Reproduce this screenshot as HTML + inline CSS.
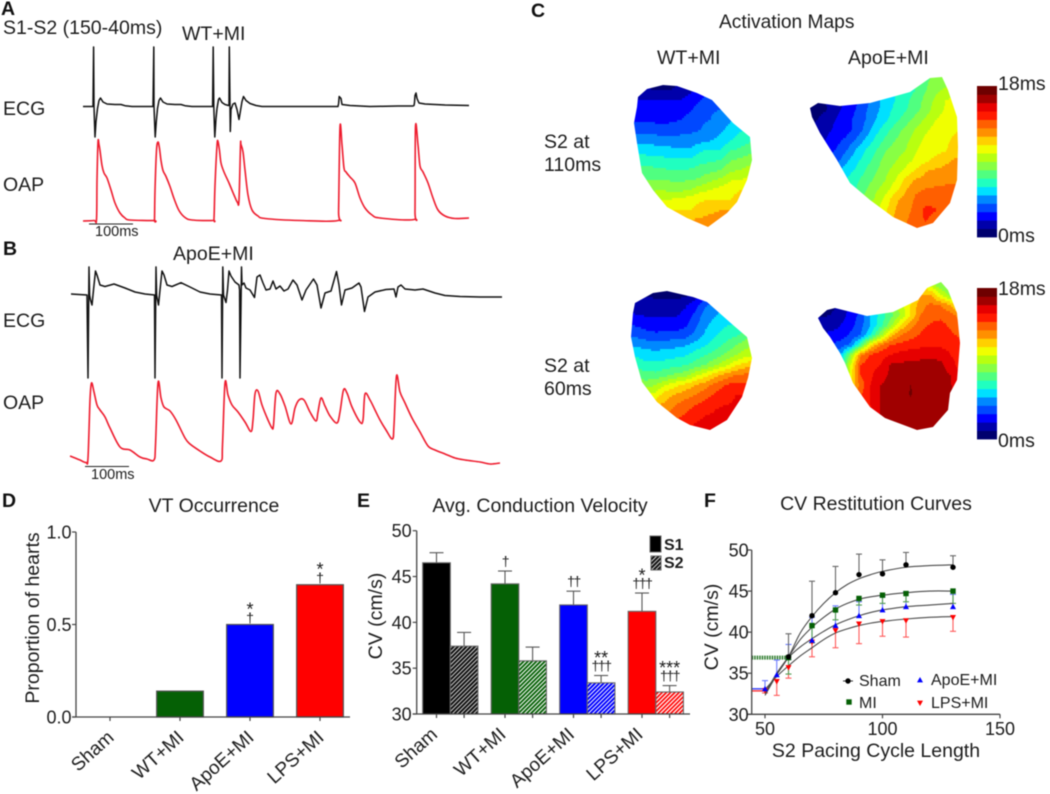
<!DOCTYPE html>
<html lang="en">
<head>
<meta charset="utf-8">
<title>Panel figure: ECG, OAP, activation maps, VT occurrence, conduction velocity</title>
<style>
html,body{margin:0;padding:0;background:#fff;}
svg{display:block;font-family:"Liberation Sans",sans-serif;filter:blur(0.4px);}
text{fill:#1c1c1c;}
.pl{font-size:19.5px;font-weight:bold;fill:#111;}
.t{font-size:19.5px;}
</style>
</head>
<body>
<svg id="fig" width="1050" height="794" viewBox="0 0 1050 794" xmlns="http://www.w3.org/2000/svg">
<defs>
<pattern id="hatch-black" patternUnits="userSpaceOnUse" width="3" height="3" patternTransform="rotate(45)"><rect width="3" height="3" fill="#fff"/><rect width="2.2" height="3" fill="#111"/></pattern>
<pattern id="hatch-green" patternUnits="userSpaceOnUse" width="3" height="3" patternTransform="rotate(45)"><rect width="3" height="3" fill="#fff"/><rect width="1.9" height="3" fill="#056005"/></pattern>
<pattern id="hatch-blue" patternUnits="userSpaceOnUse" width="3" height="3" patternTransform="rotate(45)"><rect width="3" height="3" fill="#fff"/><rect width="2" height="3" fill="#0000ff"/></pattern>
<pattern id="hatch-red" patternUnits="userSpaceOnUse" width="3" height="3" patternTransform="rotate(45)"><rect width="3" height="3" fill="#fff"/><rect width="1.7" height="3" fill="#ff0000"/></pattern>
<clipPath id="clip-map-1"><polygon points="638,97 647,89 663,85 677,86 697,93 712,100 733,123 750,137 752,160 747,180 737,202 727,213 708,227 687,218 667,207 653,190 642,173 637,143 634,123 637,107"/></clipPath>
<clipPath id="clip-map-2"><polygon points="810,108 818,103 840,106 870,103 910,92 930,78 942,77 948,90 957,117 958,147 957,180 950,203 933,223 917,228 893,217 870,200 850,183 837,160 820,133 812,117"/></clipPath>
<clipPath id="clip-map-3"><polygon points="635,303 653,293 667,291 693,297 707,302 733,325 747,337 752,358 748,378 742,397 727,420 710,430 690,425 677,418 657,402 642,382 635,357 631,337 633,313"/></clipPath>
<clipPath id="clip-map-4"><polygon points="818,318 827,310 835,308 867,316 893,312 918,300 927,288 941,282 948,290 957,313 960,343 957,380 950,393 948,410 933,427 917,430 885,418 870,407 853,383 845,363 840,353 830,337 823,328"/></clipPath>
</defs>

<!-- Panel A -->
<text class="pl" x="1" y="15">A</text>
<text class="t" x="3" y="34">S1-S2 (150-40ms)</text>
<text class="t" x="182" y="40">WT+MI</text>
<text class="t" x="3" y="115">ECG</text>
<text class="t" x="3" y="191">OAP</text>
<line x1="89" x2="133" y1="224" y2="224" stroke="#222" stroke-width="1"/>
<text x="95" y="236" font-size="14.5">100ms</text>
<g id="traces-a"></g>

<!-- Panel B -->
<text class="pl" x="3" y="255">B</text>
<text class="t" x="173" y="260">ApoE+MI</text>
<text class="t" x="3" y="327">ECG</text>
<text class="t" x="3" y="409">OAP</text>
<line x1="85" x2="129" y1="466.5" y2="466.5" stroke="#222" stroke-width="1"/>
<text x="91" y="479" font-size="14.5">100ms</text>
<g id="traces-b"></g>

<!-- Panel C -->
<text class="pl" x="531" y="17">C</text>
<text x="719" y="28" font-size="19.2">Activation Maps</text>
<text class="t" x="657" y="64">WT+MI</text>
<text class="t" x="848" y="64">ApoE+MI</text>
<text class="t" x="544" y="148">S2 at</text>
<text class="t" x="544" y="171">110ms</text>
<text class="t" x="544" y="372">S2 at</text>
<text class="t" x="544" y="395">60ms</text>
<g id="maps"></g>
<g id="colorbars"></g>
<text class="t" x="998" y="90">18ms</text>
<text class="t" x="998" y="242">0ms</text>
<text class="t" x="998" y="295">18ms</text>
<text class="t" x="998" y="447">0ms</text>

<!-- Panel D -->
<text class="pl" x="2" y="507">D</text>
<text class="t" x="214" y="512" text-anchor="middle">VT Occurrence</text>
<text class="t" transform="translate(39,618) rotate(-90)" text-anchor="middle">Proportion of hearts</text>
<g id="chart-d"></g>

<!-- Panel E -->
<text class="pl" x="357" y="507">E</text>
<text class="t" x="540" y="512" text-anchor="middle">Avg. Conduction Velocity</text>
<text class="t" transform="translate(382,616) rotate(-90)" text-anchor="middle">CV (cm/s)</text>
<g id="chart-e"></g>
<rect x="650" y="536" width="11" height="16" fill="#000" stroke="#666"/>
<text x="664" y="550" font-size="16" font-weight="bold">S1</text>
<rect x="651" y="556" width="10" height="14" fill="url(#hatch-black)" stroke="#666"/>
<text x="664" y="568" font-size="16" font-weight="bold">S2</text>

<!-- Panel F -->
<text class="pl" x="704" y="507">F</text>
<text class="t" x="876" y="510" text-anchor="middle">CV Restitution Curves</text>
<text class="t" transform="translate(718,627) rotate(-90)" text-anchor="middle">CV (cm/s)</text>
<text class="t" x="876" y="757" text-anchor="middle">S2 Pacing Cycle Length</text>
<g id="chart-f"></g>
<text x="859" y="686" font-size="16">Sham</text>
<text x="859" y="708" font-size="16">MI</text>
<text x="931" y="685" font-size="16">ApoE+MI</text>
<text x="931" y="708" font-size="16">LPS+MI</text>
</svg>

<script>
/* ---------- Trace data: [sample, amplitude] ---------- */
const ecgA = [[3,0],[13,0],[13.6,59.5],[14,0],[15,-30.5],[16,-15],[17.5,-2],[19,6],[20.5,8.5],[23,4.5],[27,2.5],[35,2],[41,2],[45,.8],[52,0],[73,0],[73.8,59.5],[74,0],[75.2,-30.5],[76.3,-15],[77.5,-2],[79,6],[80.5,8.5],[83,4.5],[87,2.5],[95,2],[101,2],[105,.8],[112,0],[132.6,0],[133.2,59.5],[133.8,0],[134.8,-30.5],[136,-12],[137,-2],[138.5,7],[139.5,8.5],[142,4],[145,2],[148.6,1],[149,1.5],[149.3,59.5],[150,1],[150.3,-25],[151,-3],[153,2.5],[155,3.5],[157,-3],[159,-13],[160.5,-4],[162,5],[163.5,10],[166,6],[170,3],[176,1],[182,0],[258,0],[258.6,3],[259.2,10],[261,8],[262,2],[270,1],[280,.5],[290,0],[318,.5],[333,.5],[334,1],[334.5,4],[335,11],[336,13.5],[337,8],[339,3.5],[345,2.5],[355,2],[365,1.5],[389,1]];
const oapA = [[3,-.5],[14,0],[16.5,1],[17,40],[18,78.5],[19,76],[20,70],[22,55],[24,47.5],[27,42.5],[31,30.5],[35,17.5],[40,7.5],[45,2.5],[50,.5],[74,0],[74.5,1],[75,30],[76.5,70],[78,78.5],[79.5,72],[81,60],[83,50],[86,44],[90,34],[94,22],[99,10],[105,3],[112,.5],[133,0],[134,2],[135,35],[137,75],[138,79],[139.5,70],[141,57.5],[144,48.5],[149,37.5],[154,25.5],[157.5,18],[159,20.5],[160.5,74.5],[161,76],[163,68.5],[165,50.5],[168,25.5],[172,10.5],[178,4.5],[185,2],[220,0],[258,0],[258.6,10],[260,93.5],[262,75.5],[264,52.5],[266,48.5],[270,43.5],[275,37.5],[280,22.5],[285,12.5],[292,5.5],[300,2.5],[334,1],[335,10],[335.5,94],[338,75.5],[340,54.5],[343,48.5],[348,37.5],[353,22.5],[358,10.5],[365,4.5],[375,2],[389,2.5]];
const ecgB = [[1,1],[17,0],[18,-83],[19,28],[19.6,0],[20.5,-5],[22,-10],[23.5,5],[25.5,24],[27,20],[30,10],[35,8.5],[44,11],[55,7],[65,3],[75,1],[84.5,0],[85,-83],[86,28],[86.6,0],[88.5,-10],[90,5],[92,24],[94,20],[97,10],[102,8.5],[111,12.3],[120,8],[130,3],[140,1],[151.5,0],[152,-83],[152.8,28],[153.5,0],[156,-7.5],[157.5,5],[159,24],[161,19],[165,13],[169,10],[169.6,5],[170,-83],[171.5,28],[172,10],[174,12],[176,7],[180,5],[184.5,-2.5],[187,18],[190,20],[193,12],[196,5],[200,6],[203,14],[206,6],[210,9],[214,4],[218,6],[223,15],[227,10],[232,-5],[236,5],[243.5,16],[247,10],[251,-13],[255,2],[261,4],[266.5,23.5],[269,10],[271.5,-10],[275,5],[282,7],[289,12],[291,8],[294.5,-16.5],[298,-2],[305,3],[316,5.5],[324,6],[326,-2],[328,8],[331,10],[335,6],[345,5],[353,6],[365,2],[375,-.5],[390,-1.5],[410,-2],[432,-2]];
const oapB = [[0,6],[5,4],[10,2],[16,-.5],[18,4],[20,62],[21.5,79],[24,70],[27,57],[30,52],[35,45],[40,34],[50,15],[60,12],[70,5],[77,3],[84,2],[85.5,17],[88,79],[91,64],[94,55],[100,51],[106,42],[115,24],[120,18],[130,11],[140,5],[151,1],[152.5,17],[155,79],[158,67],[162,57],[168,50],[175,40],[181,30.5],[183,42],[185,68],[188,71],[192,57],[198,42],[202,34],[203.5,37],[206,69],[210,68],[215,56],[221,38],[225,54],[229,62],[234,62],[240,50],[246,41],[248,50],[251,64],[255,56],[260,46],[267,39],[270,50],[273.5,72],[277,69],[282,55],[290,40],[293,42],[295,68],[300,62],[305,52],[310,42],[316,32],[322.5,23],[324,37],[326.5,86],[330,70],[335,59],[342,44],[350,30],[358,16],[365,12],[375,8],[385,4],[395,2],[410,0],[420,-2],[430,-1]];

/* ---------- Heatmap data: activation time (ms) per grid node ---------- */
const heatColors = ['#00006e','#0000aa','#0000ff','#0048ff','#0088ff','#00e0ff','#20ffc0','#50ff80','#88ff44','#b8ff10','#f0ff00','#ffd000','#ff9000','#ff5f00','#ff1a00','#e60000','#a00000','#6e0000'];
const mapWt110 = [
[1.2,1.2,1,.8,.6,.8,1.5,2,2.5,3,3.5,4,4.5,5],
[1.5,1.3,1,.9,1,1.3,1.8,2.5,3,3.5,3.8,4,4.5,5],
[2,2,2,2,2,2,2.4,3,3.4,3.8,4.2,4.5,5,5],
[2.3,2.3,2.3,2.3,2.3,2.5,2.9,3.6,3.9,4,4.6,5,5.3,5.6],
[2.8,2.8,2.8,2.7,2.8,3,3.5,3.9,4,4.4,4.9,5.4,5.8,6],
[3.5,3.6,3.6,3.5,3.5,3.7,3.8,4,4.3,4.8,5.4,5.9,6.2,6.5],
[4.6,4.7,4.6,4.4,4.3,4.3,4.4,4.6,4.9,5.3,5.9,6.4,6.8,7.2],
[5.5,5.6,5.5,5.4,5.3,5.2,5.1,5.9,6,6,6.9,7.2,7.6,8],
[6.4,6.5,6.4,6.3,6.2,6.2,6.2,6.6,6.8,7,7.9,8.2,8.6,9],
[7.3,7.4,7.3,7.2,7,7,7.1,7.5,7.7,8,8.8,9,9.4,9.8],
[8,8.1,8,8,7.9,7.9,7.9,8.2,8.8,9.2,9.9,10,10.5,11],
[8.6,8.7,8.8,9,8.8,8.8,9,9.7,10,10.4,10.8,11,11,11],
[9.6,9.6,9.8,10,10.1,10.3,10.6,10.9,11,11,11,11.3,11.5,12],
[10.5,10.6,10.8,11,11,11,11,11.4,11.8,12,12,12,12,12],
[11,11,11,11.3,11.8,12,12,12.2,12.3,12.3,12.3,12.3,12.3,12.3],
[11.5,11.5,11.8,12,12.3,12.5,12.5,12.5,12.5,12.5,12.5,12.5,12.5,12.5]];
const mapApoe110 = [
[.3,.5,1,1.5,2,2.8,3.6,4.6,5.4,6,6.7,7.2,7.8,8.2,8.4,8.6,9],
[.3,.5,1,1.5,2,2.8,3.6,4.6,5.4,6,6.7,7.2,7.8,8.3,8.5,8.8,9],
[.3,.5,1,1.5,2,2.8,3.6,4.6,5.4,6,6.6,7,7.9,8.7,9.2,9.6,10],
[.3,.5,1,1.5,2,2.8,3.6,4.6,5.4,6,6.7,7.4,8.3,9.2,10,10.2,10.4],
[.3,.6,.9,1.6,2.4,3,3.9,4.7,5.5,6.3,6.9,7.6,8.5,9.5,10.1,10.2,10.4],
[.6,.9,1.5,2,2.6,3.2,4,5,5.8,6.7,7.5,8.4,9.2,10,10.4,10.6,10.8],
[1.2,1.4,1.7,2.2,2.5,3.3,4.3,5.6,6.6,7.5,8.3,9.1,9.8,10.4,10.7,10.9,11],
[1.5,1.7,2,2.6,3.2,4,5.2,6.2,7.2,8,8.7,9.5,10.2,10.6,10.8,11.2,11.4],
[2,2.4,2.6,3,3.8,5,6,6.9,7.9,8.5,9,9.9,10.4,10.6,10.9,11.6,11.8],
[2.5,2.8,3,3.4,4.7,5.6,6.5,7.4,8.4,8.9,9.5,10.2,10.7,11.3,11.8,12.1,12.2],
[4,4,4.4,4.8,5.4,6.1,7,7.8,8.7,9.4,10.2,11,11.9,12.1,12.2,12.3,12.4],
[5,5,5.2,5.6,6,6.7,7.5,8.2,9,10,11.3,12.1,12.3,12.6,12.8,12.9,13],
[6,6,6,6.2,6.6,7,7.9,8.8,9.6,10.7,11.9,12.8,13.1,13.2,13.2,13.2,13],
[7,7,7,7,7.4,7.8,8.4,9.2,10.4,11.8,12.4,13.2,13.4,13.7,13.2,13,13],
[8,8,8,8,8,8.4,9,9.6,10.8,12,12.6,13.3,14.3,14.1,13,13,13],
[9,9,9,9,9,9.5,10,10.6,11.5,12.2,12.9,13.5,14.1,13.5,13,13,13],
[10,10,10,10,10,10.5,11,11,11.6,12.3,12.9,13.3,13.6,13.4,13,13,13]];
const mapWt60 = [
[1.3,1.1,.9,.7,.5,.5,.8,1.5,2.5,3,3.4,3.8,4,4.2],
[1.3,1.1,.9,.7,.5,.5,.8,1.5,2.5,3,3.4,3.8,4,4.2],
[2,1.7,1.6,1.6,1.6,1.7,1.9,2.6,3.8,4.5,4.9,5.2,5.4,5.6],
[2.3,2,1.9,1.9,1.9,1.9,2.2,3.3,4.5,4.9,5.4,5.7,6,6.2],
[3,2.9,2.7,2.5,2.4,2.4,2.8,3.8,4.8,5.4,5.9,6.1,6.5,7],
[4,3.8,3.3,3.2,3.3,3.4,3.6,4.3,5.2,5.9,6.5,6.8,7.5,8.4],
[5,4.8,4.7,4.6,4.6,4.7,4.9,5.4,5.9,6.6,7.2,7.9,8.6,9],
[6,5.9,5.4,5.3,5.5,5.7,5.9,6.5,7,7.4,8.2,8.9,9.6,10],
[7,6.8,6.3,6.3,6.5,6.7,6.9,7.4,8,8.9,9.7,10.8,11.5,11.8],
[8,7.8,7.4,7.3,7.7,8.2,8.6,9.7,10.6,11.6,12.4,13,13.2,13.4],
[9,8.9,8.5,9,10,10.7,11.3,12,12.6,13.4,14,14.4,14.3,14],
[11,10.5,10.2,10.4,11.6,12.1,12.6,13,13.6,14.2,14.6,15,15,15],
[12,12,12,12,12.2,13,13.5,14,14.4,14.9,15,15.1,15,15],
[13,13,13,13,13,13.7,14.1,14.6,15,15.1,15.3,15.1,15,15],
[14,14,14,14,14,14.2,14.6,15.1,15.3,15.4,15.2,15,15,15],
[14,14,14,14,14,14.5,15,15.2,15.4,15.4,15.2,15,15,15]];
const mapApoe60 = [
[.5,.5,.5,1,1.5,3,5,7,8,8,8,8,8,8,8,8,8],
[.5,.5,.5,1,1.5,3,5,7,8,9,10,11,9.5,8.3,8,8,8],
[.5,.5,.5,1,1.5,3,5,7,8,9,10.5,12,12.2,10,8.5,8,8],
[.5,.5,.7,1.2,2,3,5,7,8.5,9.6,11,12.6,13.2,13,12,10,9],
[1,.8,1,1.5,2.4,3.3,5.2,6.3,7.6,9,11,13,13.6,13.7,13.4,12.5,12],
[2,1.8,1.6,2,2.6,3.6,5,6.6,8.5,11,12.5,13.6,14.1,14.3,13.8,13.2,13],
[2,2,2.2,2.3,3.2,4,6,8.6,11.5,13,13.6,14.1,14.6,14.6,14.2,13.8,13.5],
[3,3,3,3.6,4.2,7,11,13,14,14.3,14.5,14.7,14.9,14.8,14.7,14.2,14],
[4,4,4,4.8,8.5,12.8,14.2,14.6,15,15.4,15.6,15.7,15.8,15.6,15,14.6,14.2],
[5,5,5,6,10,14,14.6,15,16.1,16.2,16.3,16.3,16.4,16.3,15.4,14.6,14.2],
[5,5,5,6,10.5,14,14.8,15.6,16.2,16.3,16.4,16.4,16.4,16.3,16,14.8,14.2],
[6,6,6,6,11,13.4,15,16,16.2,16.5,17,16.6,16.5,16.5,16.1,15,14.5],
[6,6,6,6,12,13.8,15,16,16.3,16.5,17.1,16.6,16.5,16.6,16.3,15.2,14.5],
[7,7,7,7,12,14,15,16.1,16.3,16.6,16.4,16.7,16.5,16.5,16.3,15.2,15],
[7,7,7,7,13,14,14.8,16,16.3,16.4,16.4,16.4,16.4,16.3,16.1,15,15],
[14,14,14,14,14,14,14.5,15.5,16.1,16.2,16.3,16.3,16.3,16.1,15,15,15],
[14,14,14,14,14,14,14.5,15.5,16,16.2,16.2,16.2,16.2,16,15,15,15]];

/* ---------- Panel D data ---------- */
const dCategories = ['Sham','WT+MI','ApoE+MI','LPS+MI'];
const dValues = [0,0.14,0.5,0.715];
const dColors = ['#000000','#056005','#0000ff','#ff0000'];
const dTickValues = [0,0.5,1];
const dTickLabels = ['0.0','0.5','1.0'];
const dStars = ['','','*','*'];
const dDaggers = ['','','†','†'];

/* ---------- Panel E data ---------- */
const eCategories = ['Sham','WT+MI','ApoE+MI','LPS+MI'];
const eS1 = [46.5,44.2,41.9,41.2];
const eS2 = [37.4,35.8,33.4,32.4];
const eS1Top = [47.6,45.6,43.4,43.2];
const eS2Top = [38.9,37.3,34.2,33.1];
const eTickValues = [30,35,40,45,50];
const eS1Daggers = ['','†','††','†††'];
const eS1Stars = ['','','','*'];
const eS2Daggers = ['','','†††','†††'];
const eS2Stars = ['','','**','***'];
const eFills = ['#000000','#056005','#0000ff','#ff0000'];
const eHatches = ['url(#hatch-black)','url(#hatch-green)','url(#hatch-blue)','url(#hatch-red)'];

/* ---------- Panel F data ---------- */
const fTicksX = [50,100,150];
const fTicksY = [30,35,40,45,50];
const shamX = [60,70,80,90,100,110,130];
const shamY = [37,42,44.8,47,47.1,48.2,47.9];
const shamErr = [39.8,46.2,48,49.5,48.8,49.7,49.3];
const miX = [60,70,80,90,100,110,130];
const miY = [36.9,40.8,42.7,44.1,44.5,44.7,45];
const miErr = [34.9,38.7,41.5,43.3,43.5,43.7,43.5];
const apoX = [50,55,60,70,80,90,100,110,130];
const apoY = [33.1,34.8,36.9,39,40.8,42,42.7,43.1,43.1];
const apoErr = [34.1,36.6,38.5,41.8,43.2,43.7,44.3,44.9,44.6];
const lpsX = [50,55,60,70,80,90,100,110,130];
const lpsY = [32.9,34,35.7,38.8,40.2,41,41.3,41.4,41.8];
const lpsErr = [32.6,32.3,34.4,37,38.1,38.6,39.5,39.4,40.1];
const fitX = [50,55,60,65,70,75,80,85,90,95,100,110,120,130];
const fitSham = [32.3,34.8,37,39.9,41.9,43.5,44.8,45.8,46.5,47,47.4,47.9,48.1,48.2];
const fitMi = [32.5,35,37,39.1,40.6,41.8,42.8,43.5,44,44.3,44.5,44.8,45,45];
const fitApo = [32.6,34.9,36.9,38.2,39.2,40.1,40.9,41.5,42,42.4,42.7,43.1,43.3,43.5];
const fitLps = [33,34.6,35.9,37.1,38.1,39.1,39.9,40.4,40.8,41.1,41.3,41.6,41.8,41.9];

/* ---------- Helpers ---------- */
const NS = 'http://www.w3.org/2000/svg';
function make(tag, parent, attrs, txt){
  const el = document.createElementNS(NS, tag);
  for (const k in attrs) el.setAttribute(k, attrs[k]);
  if (txt !== undefined) el.textContent = txt;
  parent.appendChild(el);
  return el;
}
function lin(d0,d1,r0,r1){ return v => r0 + (v-d0)*(r1-r0)/(d1-d0); }
function smooth(pts){
  let d = 'M' + pts[0][0].toFixed(2) + ' ' + pts[0][1].toFixed(2);
  for (let i=0;i<pts.length-1;i++){
    const p0=pts[Math.max(i-1,0)],p1=pts[i],p2=pts[i+1],p3=pts[Math.min(i+2,pts.length-1)];
    d += 'C'+(p1[0]+(p2[0]-p0[0])/6).toFixed(2)+' '+(p1[1]+(p2[1]-p0[1])/6).toFixed(2)+' '+(p2[0]-(p3[0]-p1[0])/6).toFixed(2)+' '+(p2[1]-(p3[1]-p1[1])/6).toFixed(2)+' '+p2[0].toFixed(2)+' '+p2[1].toFixed(2);
  }
  return d;
}

/* ---------- Traces ---------- */
const traceSpecs = [
 {group:'traces-a',name:'panel-a-ecg-trace',data:ecgA,x0:80,y0:106.5,color:'#111',w:1.5,curve:false},
 {group:'traces-a',name:'panel-a-oap-trace',data:oapA,x0:80,y0:220.5,color:'#ee1c2e',w:1.6,curve:true},
 {group:'traces-b',name:'panel-b-ecg-trace',data:ecgB,x0:70,y0:295,color:'#111',w:1.5,curve:false},
 {group:'traces-b',name:'panel-b-oap-trace',data:oapB,x0:70,y0:462,color:'#ee1c2e',w:1.6,curve:true}
];
traceSpecs.forEach(s => {
  const xs = lin(0,1,s.x0,s.x0+1), ys = lin(0,1,s.y0,s.y0-1);
  const pts = s.data.map(p => [xs(p[0]),ys(p[1])]);
  const d = s.curve ? smooth(pts) : 'M' + pts.map(p => p[0].toFixed(1)+' '+p[1].toFixed(1)).join('L');
  const el = make('path', document.getElementById(s.group), {d:d,fill:'none',stroke:s.color,'stroke-width':s.w,'stroke-linejoin':'round'});
  
  
});

/* ---------- Activation maps ---------- */
const mapSpecs = [
 {name:'map-wt-110ms',grid:mapWt110,x0:630,y0:80,clip:'clip-map-1'},
 {name:'map-apoe-110ms',grid:mapApoe110,x0:805,y0:70,clip:'clip-map-2'},
 {name:'map-wt-60ms',grid:mapWt60,x0:625,y0:285,clip:'clip-map-3'},
 {name:'map-apoe-60ms',grid:mapApoe60,x0:810,y0:275,clip:'clip-map-4'}
];
const CELL = 10;
function sampleGrid(grid, gx, gy){
  const r = Math.min(Math.floor(gy), grid.length-2), c = Math.min(Math.floor(gx), grid[0].length-2);
  const fy = gy-r, fx = gx-c;
  return (grid[r][c]*(1-fx)+grid[r][c+1]*fx)*(1-fy)+(grid[r+1][c]*(1-fx)+grid[r+1][c+1]*fx)*fy;
}
mapSpecs.forEach(m => {
  const g = make('g', document.getElementById('maps'), {'clip-path':'url(#'+m.clip+')','shape-rendering':'crispEdges'});
  
  
  const wPx = (m.grid[0].length-1)*CELL, hPx = (m.grid.length-1)*CELL;
  for (let py=0; py<hPx; py+=2){
    let start = 0, cur = -1;
    for (let px=0; px<=wPx; px+=1){
      const lvl = px===wPx ? -2 : Math.max(0,Math.min(heatColors.length-1,Math.floor(sampleGrid(m.grid,px/CELL,(py+1)/CELL))));
      if (lvl!==cur){
        if (cur>=0){
          const cell = make('rect', g, {x:m.x0+start,y:m.y0+py,width:px-start,height:2,fill:heatColors[cur]});
          
          
        }
        start = px; cur = lvl;
      }
    }
  }
});

/* ---------- Colour bars ---------- */
[{top:86,bottom:237,name:'colorbar-110ms'},{top:288,bottom:439,name:'colorbar-60ms'}].forEach(b => {
  const g = make('g', document.getElementById('colorbars'), {});
  
  
  const ys = lin(0,heatColors.length,b.bottom,b.top);
  heatColors.forEach((c,i) => {
    const band = make('rect', g, {x:977,y:ys(i+1),width:20,height:ys(i)-ys(i+1)+.4,fill:c});
    
    
  });
});

/* ---------- Panel D ---------- */
(function(){
  const root = document.getElementById('chart-d');
  const y = lin(0,1,717,532);
  const bandStart = 110, bandStep = 70, barW = 46.7, axisX = 76;
  const cx = i => bandStart + i*bandStep;
  dValues.forEach((v,i) => {
    if (v<=0) return;
    const bar = make('rect', root, {x:cx(i)-barW/2,y:y(v),width:barW,height:y(0)-y(v),fill:dColors[i],stroke:'#555','stroke-width':1.2});
    
    
    if (dDaggers[i]){
      const dg = make('text', root, {x:cx(i),y:y(v)-2,'text-anchor':'middle','font-size':14}, dDaggers[i]);
      
      
      const st = make('text', root, {x:cx(i),y:y(v)-9,'text-anchor':'middle','font-size':18}, dStars[i]);
      
      
    }
  });
  const yAxis = make('line', root, {x1:axisX,x2:axisX,y1:y(1),y2:y(0),stroke:'#444','stroke-width':1.3});
  
  
  const xAxis = make('line', root, {x1:axisX-4,x2:350,y1:y(0),y2:y(0),stroke:'#444','stroke-width':1.3});
  
  
  dTickValues.forEach((v,i) => {
    const t = make('line', root, {x1:axisX-4,x2:axisX,y1:y(v),y2:y(v),stroke:'#444','stroke-width':1.2});
    
    
    const l = make('text', root, {x:axisX-4.5,y:y(v)+6.5,'text-anchor':'end','font-size':18}, dTickLabels[i]);
    
    
  });
  dCategories.forEach((c,i) => {
    const t = make('line', root, {x1:cx(i),x2:cx(i),y1:y(0),y2:y(0)+4,stroke:'#444','stroke-width':1.2});
    
    
    const l = make('text', root, {transform:'translate('+(cx(i)+5)+','+(y(0)+22)+') rotate(-42)','text-anchor':'end','font-size':19}, c);
    
    
  });
})();

/* ---------- Panel E ---------- */
(function(){
  const root = document.getElementById('chart-e');
  const y = lin(30,50,714,530.7);
  const axisX = 416.7, firstBar = 422.7, groupStep = 68.5, barW = 27.6;
  const capH = 7;
  function err(parent, cx, from, to, name){
    const stem = make('line', parent, {x1:cx,x2:cx,y1:y(from),y2:y(to),stroke:'#555','stroke-width':1.1});
    
    
    const cap = make('line', parent, {x1:cx-capH,x2:cx+capH,y1:y(to),y2:y(to),stroke:'#555','stroke-width':1.1});
    
    
  }
  function sig(cx, topVal, dagger, star){
    if (dagger){
      const dg = make('text', root, {x:cx,y:y(topVal)-5,'text-anchor':'middle','font-size':14,'letter-spacing':-1.4}, dagger);
      
      
    }
    if (star){
      const st = make('text', root, {x:cx,y:y(topVal)-11.5,'text-anchor':'middle','font-size':18}, star);
      
      
    }
  }
  eCategories.forEach((c,i) => {
    const x1 = firstBar + i*groupStep, x2 = x1 + barW;
    err(root, x1+barW/2, eS1[i], eS1Top[i], 'cv-s1-error');
    err(root, x2+barW/2, eS2[i], eS2Top[i], 'cv-s2-error');
    const b1 = make('rect', root, {x:x1,y:y(eS1[i]),width:barW,height:y(30)-y(eS1[i]),fill:eFills[i],stroke:'#666','stroke-width':1.1});
    
    
    const b2 = make('rect', root, {x:x2,y:y(eS2[i]),width:barW,height:y(30)-y(eS2[i]),fill:eHatches[i],stroke:'#666','stroke-width':1.1});
    
    
    sig(x1+barW/2, eS1Top[i], eS1Daggers[i], eS1Stars[i]);
    sig(x2+barW/2, eS2Top[i], eS2Daggers[i], eS2Stars[i]);
    [x1+barW/2, x2+barW/2].forEach(tx => {
      const t = make('line', root, {x1:tx,x2:tx,y1:y(30),y2:y(30)+4,stroke:'#444','stroke-width':1.2});
      
      
    });
    const l = make('text', root, {transform:'translate('+(x1+barW/2+2)+','+(y(30)+22)+') rotate(-42)','text-anchor':'end','font-size':19}, c);
    
    
  });
  const yAxis = make('line', root, {x1:axisX,x2:axisX,y1:y(50),y2:y(30),stroke:'#444','stroke-width':1.3});
  
  
  const xAxis = make('line', root, {x1:axisX-4,x2:690,y1:y(30),y2:y(30),stroke:'#444','stroke-width':1.3});
  
  
  eTickValues.forEach(v => {
    const t = make('line', root, {x1:axisX-4,x2:axisX,y1:y(v),y2:y(v),stroke:'#444','stroke-width':1.2});
    
    
    const l = make('text', root, {x:axisX-5,y:y(v)+6.5,'text-anchor':'end','font-size':18}, String(v));
    
    
  });
})();

/* ---------- Panel F ---------- */
(function(){
  const root = document.getElementById('chart-f');
  const x = lin(50,150,765,1000);
  const y = lin(30,50,714.3,550);
  const axisX = 751.7;
  const stubs = [
    {from:60,val:36.9,color:'#2b7a2b',w:4,name:'sham-mi-horizontal-error'},
    {from:50,val:33.1,color:'#3344ff',w:1.4,name:'apoe-horizontal-error'},
    {from:50,val:32.85,color:'#ff3333',w:1.4,name:'lps-horizontal-error'}
  ];
  stubs.forEach(s => {
    const l = make('line', root, {x1:axisX,x2:x(s.from),y1:y(s.val),y2:y(s.val),stroke:s.color,'stroke-width':s.w,'stroke-dasharray':s.w>2?'1.5 1':'none'});
    
    
  });
  const series = [
    {key:'lps',xs:lpsX,ys:lpsY,errs:lpsErr,fit:fitLps,color:'#ff0000',ec:'#ff5a5a'},
    {key:'apoe',xs:apoX,ys:apoY,errs:apoErr,fit:fitApo,color:'#0000ff',ec:'#6a7aff'},
    {key:'mi',xs:miX,ys:miY,errs:miErr,fit:fitMi,color:'#056005',ec:'#4f9a4f'},
    {key:'sham',xs:shamX,ys:shamY,errs:shamErr,fit:fitSham,color:'#000000',ec:'#666666'}
  ];
  function marker(parent, key, px, py, color, name){
    let m;
    if (key==='sham') m = make('circle', parent, {cx:px,cy:py,r:2.7,fill:color});
    else if (key==='mi') m = make('rect', parent, {x:px-2.7,y:py-2.7,width:5.4,height:5.4,fill:color});
    else if (key==='apoe') m = make('polygon', parent, {points:(px-3)+','+(py+2.4)+' '+(px+3)+','+(py+2.4)+' '+px+','+(py-3),fill:color});
    else m = make('polygon', parent, {points:(px-3)+','+(py-2.4)+' '+(px+3)+','+(py-2.4)+' '+px+','+(py+3),fill:color});
    
    
  }
  series.forEach(s => {
    s.xs.forEach((v,i) => {
      const stem = make('line', root, {x1:x(v),x2:x(v),y1:y(s.ys[i]),y2:y(s.errs[i]),stroke:s.ec,'stroke-width':1.1});
      
      
      const cap = make('line', root, {x1:x(v)-3,x2:x(v)+3,y1:y(s.errs[i]),y2:y(s.errs[i]),stroke:s.ec,'stroke-width':1.1});
      
      
    });
  });
  series.forEach(s => {
    const p = make('path', root, {d:smooth(fitX.map((v,i) => [x(v),y(s.fit[i])])),fill:'none',stroke:'#4a4a4a','stroke-width':1.1});
    
    
  });
  series.forEach(s => {
    s.xs.forEach((v,i) => marker(root, s.key, x(v), y(s.ys[i]), s.color, s.key + '-point'));
  });
  const yAxis = make('line', root, {x1:axisX,x2:axisX,y1:y(50),y2:y(30),stroke:'#444','stroke-width':1.3});
  
  
  const xAxis = make('line', root, {x1:axisX-4,x2:x(150),y1:y(30),y2:y(30),stroke:'#444','stroke-width':1.3});
  
  
  fTicksY.forEach(v => {
    const t = make('line', root, {x1:axisX-4,x2:axisX,y1:y(v),y2:y(v),stroke:'#444','stroke-width':1.2});
    
    
    const l = make('text', root, {x:axisX-3,y:y(v)+6.5,'text-anchor':'end','font-size':18}, String(v));
    
    
  });
  fTicksX.forEach(v => {
    const t = make('line', root, {x1:x(v),x2:x(v),y1:y(30),y2:y(30)+4,stroke:'#444','stroke-width':1.2});
    
    
    const l = make('text', root, {x:x(v),y:735,'text-anchor':'middle','font-size':18}, String(v));
    
    
  });
  const shamLine = make('line', root, {x1:843,x2:853,y1:681,y2:681,stroke:'#333','stroke-width':1});
  
  
  marker(root, 'sham', 848, 681, '#000', 'legend-sham-marker');
  marker(root, 'mi', 849, 702, '#056005', 'legend-mi-marker');
  marker(root, 'apoe', 920, 680, '#0000ff', 'legend-apoe-marker');
  marker(root, 'lps', 920, 703, '#ff0000', 'legend-lps-marker');
})();
</script>
</body>
</html>
